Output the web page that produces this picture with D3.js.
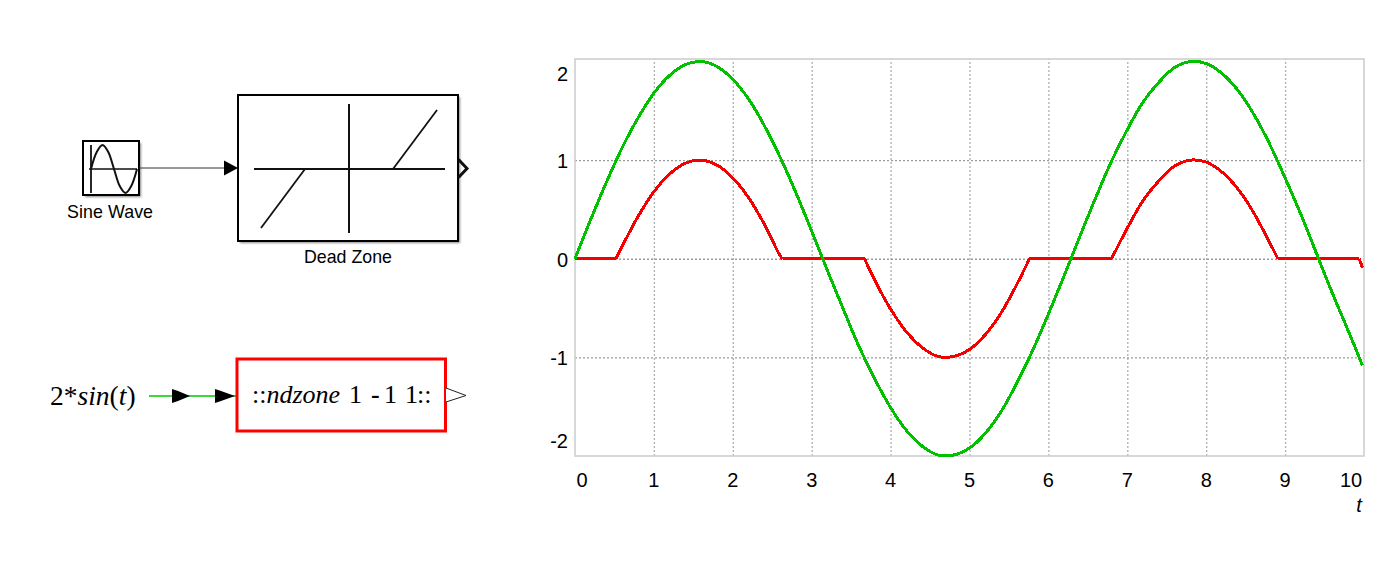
<!DOCTYPE html>
<html><head><meta charset="utf-8">
<script src="https://cdnjs.cloudflare.com/ajax/libs/d3/7.8.5/d3.min.js"></script>
<style>
html,body{margin:0;padding:0;background:#fff;overflow:hidden}
text{fill:#000}
</style></head><body>
<svg id="c" width="1397" height="563"></svg>
<script>
// ---- data ----
const greenT = [0,0.2,0.4,0.6,0.8,1,1.2,1.4,1.6,1.8,2,2.2,2.4,2.6,2.8,3,3.2,3.4,3.6,3.8,4,4.2,4.4,4.6,4.8,5,5.2,5.4,5.6,5.8,6,6.2,6.4,6.6,6.8,7,7.2,7.4,7.6,7.8,8,8.2,8.4,8.6,8.8,9,9.2,9.4,9.6,9.8,9.98];
const greenY = [0,0.40,0.78,1.13,1.43,1.68,1.86,1.97,2.0,1.95,1.82,1.62,1.35,1.03,0.67,0.28,-0.12,-0.51,-0.89,-1.22,-1.51,-1.74,-1.90,-1.99,-1.99,-1.92,-1.77,-1.55,-1.26,-0.93,-0.56,-0.17,0.23,0.62,0.99,1.31,1.59,1.79,1.94,2.0,1.98,1.88,1.71,1.47,1.17,0.82,0.45,0.05,-0.35,-0.73,-1.08];
const redT = [0,0.52,0.6,0.8,1,1.2,1.4,1.6,1.8,2,2.2,2.4,2.6,2.63,3.67,3.8,4,4.2,4.4,4.6,4.8,5,5.2,5.4,5.6,5.76,6.8,7,7.2,7.4,7.6,7.8,8,8.2,8.4,8.6,8.8,8.91,9.94,9.98];
const redY = [0,0,0.13,0.43,0.68,0.86,0.97,1.0,0.95,0.82,0.62,0.35,0.03,0,0,-0.22,-0.51,-0.74,-0.90,-0.99,-0.99,-0.92,-0.77,-0.55,-0.26,0,0,0.31,0.59,0.79,0.94,1.0,0.98,0.88,0.71,0.47,0.17,0,0,-0.09];
const xTickValues = [0,1,2,3,4,5,6,7,8,9,10];
const yTickValues = [-2,-1,0,1,2];
const xGridValues = [1,2,3,4,5,6,7,8,9];
const yGridValues = [-1,0,1];
const sineIconT = [0,0.25,0.5,0.75,1,1.25,1.5,1.75,2];
const sineIconY = [0,0.71,1,0.71,0,-0.71,-1,-0.71,0];

// ---- plot ----
const svg = d3.select('#c');
const FONT = '"Liberation Sans",Arial,sans-serif';
const SERIF = '"Liberation Serif","Times New Roman",serif';
const x = d3.scaleLinear().domain([0,10]).range([575,1364]);
const y = d3.scaleLinear().domain([-2,2.026]).range([456,59]);

const gx = svg.append('g').attr('transform','translate(0,456)')
  .call(d3.axisBottom(x).tickValues(xGridValues).tickSize(-397).tickFormat(''));
gx.select('.domain').remove();
gx.selectAll('line').attr('stroke','#b4b4b4').attr('stroke-width',1.4).attr('stroke-dasharray','2 2');
const gy = svg.append('g').attr('transform','translate(575,0)')
  .call(d3.axisLeft(y).tickValues(yGridValues).tickSize(-789).tickFormat(''));
gy.select('.domain').remove();
gy.selectAll('line').attr('stroke','#9c9c9c').attr('stroke-width',1.4).attr('stroke-dasharray','2 2');

svg.append('rect').attr('x',575).attr('y',59).attr('width',789).attr('height',397)
  .attr('fill','none').attr('stroke','#cfcfcf').attr('stroke-width',1.6);

const smooth = d3.line().x(d=>x(d[0])).y(d=>y(d[1])).curve(d3.curveCatmullRom.alpha(0.5));
// red: split at the flat runs so that the corners of the dead zone stay sharp
const redPts = d3.zip(redT,redY);
const redPieces = [];
let cur = [redPts[0]];
for (let i=1;i<redPts.length;i++){
  const flatNow = redPts[i][1]===0 && redPts[i-1][1]===0;
  const flatPrev = cur.length>1 && cur[cur.length-1][1]===0 && cur[cur.length-2][1]===0;
  if (flatNow !== flatPrev && cur.length>1){ redPieces.push(cur); cur=[redPts[i-1]]; }
  cur.push(redPts[i]);
}
redPieces.push(cur);
svg.append('path').attr('d',redPieces.map(p=>smooth(p)).join('')).attr('fill','none')
  .attr('stroke','#f40000').attr('stroke-width',3).attr('stroke-linejoin','round').attr('shape-rendering','crispEdges');
svg.append('path').datum(d3.zip(greenT,greenY)).attr('d',smooth).attr('fill','none')
  .attr('stroke','#00c000').attr('stroke-width',3).attr('stroke-linejoin','round').attr('shape-rendering','crispEdges');

// tick labels (the outermost ones are pulled inward, as in the reference)
const xl = svg.append('g').attr('font-family',FONT).attr('font-size',20).attr('text-anchor','middle');
xl.selectAll('text').data(xTickValues).join('text')
  .attr('x',d=>d===0?582:d===10?1351:x(d)).attr('y',487).text(d=>d);
const yl = svg.append('g').attr('font-family',FONT).attr('font-size',20).attr('text-anchor','end');
yl.selectAll('text').data(yTickValues).join('text')
  .attr('x',568).attr('y',d=>(d===2?74:d===-2?441:y(d)+1)+7).text(d=>d<0?'-'+(-d):d);
svg.append('text').attr('x',1359).attr('y',512).attr('text-anchor','middle')
  .attr('font-family',FONT).attr('font-style','italic').attr('font-size',20).text('t');

// ---- Simulink diagram ----
const defs = svg.append('defs');
const blur = defs.append('filter').attr('id','sh').attr('x','-10%').attr('y','-10%').attr('width','130%').attr('height','130%');
blur.append('feGaussianBlur').attr('stdDeviation',1.2);
function box(px,py,w,h){
  svg.append('rect').attr('x',px+2).attr('y',py+2).attr('width',w).attr('height',h).attr('fill','#888').attr('filter','url(#sh)');
  svg.append('rect').attr('x',px).attr('y',py).attr('width',w).attr('height',h).attr('fill','#fff').attr('stroke','#000').attr('stroke-width',2);
}
function seg(a,b,c,d,w,col){svg.append('line').attr('x1',a).attr('y1',b).attr('x2',c).attr('y2',d).attr('stroke',col||'#111').attr('stroke-width',w||1.5);}

box(83,141,56,54);
seg(91,145,91,193,1.8); seg(89,169,137,169,1.5);
const ix = d3.scaleLinear().domain([0,2]).range([91,137]);
const iy = d3.scaleLinear().domain([-1,1]).range([193,145]);
svg.append('path').datum(d3.zip(sineIconT,sineIconY))
  .attr('d',d3.line().x(d=>ix(d[0])).y(d=>iy(d[1])).curve(d3.curveCatmullRom))
  .attr('fill','none').attr('stroke','#111').attr('stroke-width',2);

box(238,95,220,146);
seg(254,169,445,169,2); seg(349,104,349,233,2);
seg(261,228,305,169,1.8); seg(393,169,437,110,1.8);

seg(139,168,226,168,1,'#333');
svg.append('path').attr('d','M224,160.5L238,168L224,175.5Z').attr('fill','#000');
svg.append('path').attr('d','M458.5,159.5L467,168.5L458.5,177.5').attr('fill','none').attr('stroke','#111').attr('stroke-width',3);

svg.append('text').attr('x',110).attr('y',218).attr('text-anchor','middle').attr('font-family',FONT).attr('font-size',17.8).attr('textLength',86).text('Sine Wave');
svg.append('text').attr('x',348).attr('y',263).attr('text-anchor','middle').attr('font-family',FONT).attr('font-size',17.8).attr('textLength',88).text('Dead Zone');

// ---- second diagram ----
const t1 = svg.append('text').attr('x',50).attr('y',405).attr('font-family',SERIF).attr('font-size',27.5);
t1.append('tspan').text('2*');
t1.append('tspan').attr('font-style','italic').text('sin');
t1.append('tspan').text('(');
t1.append('tspan').attr('font-style','italic').text('t');
t1.append('tspan').text(')');

seg(149,396,237,396,1.5,'#00c800');
[[172,190],[215,235]].forEach(([a,b])=>{
  svg.append('path').attr('d',`M${a},389L${a+6},391L${b},396L${a+6},401L${a},403Z`).attr('fill','#000');
});
svg.append('rect').attr('x',237).attr('y',359).attr('width',208.5).attr('height',72).attr('fill','#fff').attr('stroke','#f00').attr('stroke-width',3);
svg.append('path').attr('d','M446,388L466,395.5L446,402').attr('fill','#fff').attr('stroke','#222').attr('stroke-width',1);

const t2 = svg.append('text').attr('y',403).attr('font-family',SERIF).attr('font-size',26);
t2.append('tspan').attr('x',252).text('::');
t2.append('tspan').attr('font-style','italic').text('ndzone');
t2.append('tspan').attr('x',349).text('1');
t2.append('tspan').attr('x',371).attr('font-weight','bold').text('-');
t2.append('tspan').attr('x',384).text('1');
t2.append('tspan').attr('x',405).text('1');
t2.append('tspan').attr('x',417).text('::');
</script>
</body></html>
